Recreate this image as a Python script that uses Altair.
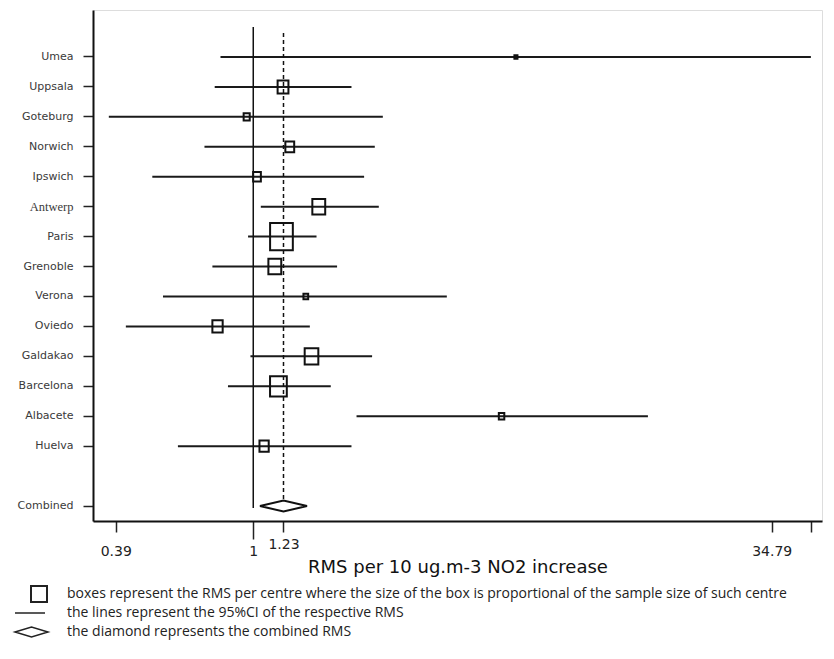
import altair as alt
import pandas as pd

# ---- data ----
centres = ["Umea", "Uppsala", "Goteburg", "Norwich", "Ipswich", "Antwerp", "Paris",
           "Grenoble", "Verona", "Oviedo", "Galdakao", "Barcelona", "Albacete", "Huelva"]
rms = [6.04, 1.226, 0.956, 1.284, 1.026, 1.566, 1.213, 1.159, 1.433, 0.783, 1.490, 1.188, 5.474, 1.077]
ci_low = [0.799, 0.768, 0.372, 0.716, 0.501, 1.053, 0.965, 0.756, 0.539, 0.418, 0.981, 0.841, 2.028, 0.597]
ci_high = [45.5, 1.959, 2.428, 2.298, 2.136, 2.362, 1.542, 1.775, 3.763, 1.473, 2.256, 1.700, 14.91, 1.959]
weights = [0.5, 6.3, 2.0, 4.2, 3.2, 8.9, 27.8, 8.9, 1.2, 5.7, 10.0, 15.1, 1.6, 4.6]

combined_label = "Combined"
combined_rms = 1.23
combined_low = 1.082
combined_high = 1.493

tick_values = [0.39, 1, 1.23, 34.79, 45.5]
x_domain = [0.3338, 49.1]

legend_texts = [
    "boxes represent the RMS per centre where the size of the box is proportional of the sample size of such centre",
    "the lines represent the 95%CI of the respective RMS",
    "the diamond represents the combined RMS",
]
x_title = "RMS per 10 ug.m-3 NO2 increase"

# ---- tables ----
df = pd.DataFrame({"centre": centres, "rms": rms, "low": ci_low, "high": ci_high, "weight": weights})
dfc = pd.DataFrame({"centre": [combined_label], "rms": [combined_rms],
                    "low": [combined_low], "high": [combined_high]})

y_domain = centres + [" ", combined_label]

W, H = 729, 511

xscale = alt.Scale(type="log", domain=x_domain, nice=False, zero=False)
yscale = alt.Scale(domain=y_domain, paddingInner=0, paddingOuter=0.535, align=1)

xaxis = alt.Axis(
    values=tick_values, format="~g", title=x_title,
    labelExpr="datum.value > 40 ? '' : datum.label",
    tickSize=alt.condition("datum.value == 1", alt.value(18), alt.value(11)),
    tickWidth=1.5, tickColor="#222",
    labelPadding=alt.condition("datum.value == 1.23 || datum.value == 1", alt.value(5), alt.value(12)),
    labelFont="DejaVu Sans", labelFontSize=14, labelColor="#222",
    titleFont="DejaVu Sans", titleFontSize=18, titleFontWeight="normal",
    titleColor="#111", titleY=46, titleBaseline="middle",
    domainColor="#111", domainWidth=2, grid=False,
)
yaxis = alt.Axis(
    values=centres + [combined_label], title=None,
    tickSize=10, tickWidth=1.5, tickColor="#222", labelPadding=10,
    labelFont=alt.condition("datum.value == 'Antwerp'", alt.value("Liberation Serif"), alt.value("DejaVu Sans")),
    labelFontSize=alt.condition("datum.value == 'Antwerp'", alt.value(12.5), alt.value(11)),
    labelColor="#3a3a3a",
    domainColor="#111", domainWidth=2, grid=False,
)

rect_path = "M-0.83,-1L0.83,-1L0.83,1L-0.83,1Z"
diamond_path = "M-1,0L0,-0.234L1,0L0,0.234Z"

ci = alt.Chart(df).mark_rule(color="#1a1a1a", strokeWidth=2).encode(
    x=alt.X("low:Q", scale=xscale, axis=xaxis),
    x2="high:Q",
    y=alt.Y("centre:N", scale=yscale, axis=yaxis),
)

boxes = alt.Chart(df).mark_point(shape=rect_path, filled=False, color="#111",
                                 strokeWidth=2, opacity=1).encode(
    x=alt.X("rms:Q", scale=xscale),
    y=alt.Y("centre:N", scale=yscale),
    size=alt.Size("weight:Q", scale=alt.Scale(domain=[0, 100], range=[0, 2700]), legend=None),
)

ref_one = alt.Chart(pd.DataFrame({"v": [1]})).mark_rule(color="#111", strokeWidth=1.5).encode(
    x=alt.X("v:Q", scale=xscale), y=alt.value(17), y2=alt.value(498)
)
ref_comb = alt.Chart(dfc).mark_rule(color="#111", strokeWidth=1.5, strokeDash=[4, 3]).encode(
    x=alt.X("rms:Q", scale=xscale), y=alt.value(23), y2=alt.value(492)
)

diamond = alt.Chart(dfc).mark_point(shape=diamond_path, filled=True, fill="white",
                                    stroke="#111", strokeWidth=2, opacity=1, size=2209).encode(
    x=alt.X("rms:Q", scale=xscale),
    y=alt.Y("centre:N", scale=yscale),
)

# ---- explanatory legend below the axis ----
leg_rows = [584, 603, 622]
leg_box = alt.Chart(pd.DataFrame({"a": [0]})).mark_point(
    shape="square", filled=False, color="#222", strokeWidth=2, opacity=1, size=256
).encode(x=alt.value(-54), y=alt.value(leg_rows[0]))
leg_line = alt.Chart(pd.DataFrame({"a": [0]})).mark_rule(color="#222", strokeWidth=1.5).encode(
    x=alt.value(-78), x2=alt.value(-48), y=alt.value(leg_rows[1])
)
leg_diamond = alt.Chart(pd.DataFrame({"a": [0]})).mark_point(
    shape="M-1,0L0,-0.3L1,0L0,0.3Z", filled=False, color="#222", strokeWidth=1.5, opacity=1, size=1089
).encode(x=alt.value(-61.5), y=alt.value(leg_rows[2]))

leg_texts = []
for t, yy in zip(legend_texts, leg_rows):
    leg_texts.append(
        alt.Chart(pd.DataFrame({"t": [t]})).mark_text(
            align="left", baseline="middle", font="Open Sans", fontSize=14, color="#222"
        ).encode(x=alt.value(-26), y=alt.value(yy), text="t:N")
    )

chart = alt.layer(ci, ref_one, ref_comb, boxes, diamond, leg_box, leg_line, leg_diamond, *leg_texts).properties(
    width=W, height=H,
    autosize=alt.AutoSizeParams(type="none"),
    padding={"left": 85, "top": 2, "right": 4, "bottom": 120},
).configure_view(stroke=None).configure(background="white")

chart.save("out.html", embed_options={"renderer": "svg", "actions": False})
